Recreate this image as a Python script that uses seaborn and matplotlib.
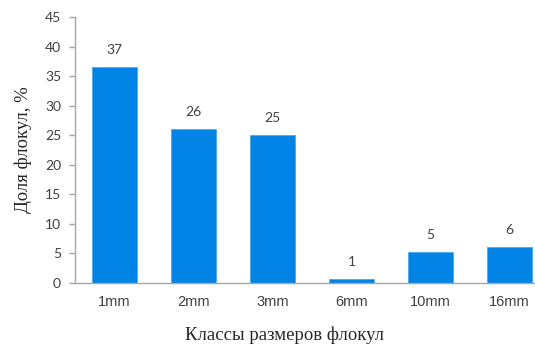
import matplotlib
matplotlib.use("Agg")
import matplotlib.pyplot as plt
import seaborn as sns
import pandas as pd

# Floc size classes and their share, %
categories = ["1mm", "2mm", "3mm", "6mm", "10mm", "16mm"]
shares = [36.6, 26.0, 25.0, 0.6, 5.2, 6.1]

df = pd.DataFrame({"cls": categories, "share": shares})

sns.set_theme(style="white")
plt.rcParams["font.family"] = ["Lato", "DejaVu Sans"]

fig = plt.figure(figsize=(5.35, 3.45), dpi=100)
ax = fig.add_axes([75 / 535, 62 / 345, 474 / 535, 266 / 345])

bar_color = "#0284E6"
sns.barplot(data=df, x="cls", y="share", color=bar_color, width=0.58,
            saturation=1, edgecolor="#4AA8EE", linewidth=0.6, ax=ax)

for i, v in enumerate(shares):
    ax.text(i, v + 2.9, f"{v:.0f}", ha="center", va="center",
            fontsize=10, color="#404040")

ax.set_xlim(-0.5, 5.5)
ax.set_ylim(0, 45)
ax.set_yticks(range(0, 46, 5))
ax.set_xticks(range(len(categories)), categories,
              family=["Liberation Sans", "DejaVu Sans"], fontsize=10.5,
              color="#404040")

spine_color = "#A6A6A6"
for side in ["top", "right"]:
    ax.spines[side].set_visible(False)
for side in ["left", "bottom"]:
    ax.spines[side].set_color(spine_color)
    ax.spines[side].set_linewidth(1.0)

ax.tick_params(axis="y", which="major", left=True, length=4, width=1,
               color=spine_color, labelsize=10, labelcolor="#404040", pad=6)
ax.tick_params(axis="x", bottom=False, length=0, pad=9)

serif = ["Liberation Serif", "DejaVu Serif"]
ax.set_xlabel("Классы размеров флокул", family=serif, fontsize=13.5,
              color="#262626")
ax.xaxis.set_label_coords(210 / 474, -44 / 266)
ax.set_ylabel("Доля флокул, %", family=serif, fontsize=13.5,
              color="#262626", labelpad=9)

fig.savefig("out.png", dpi=100)
